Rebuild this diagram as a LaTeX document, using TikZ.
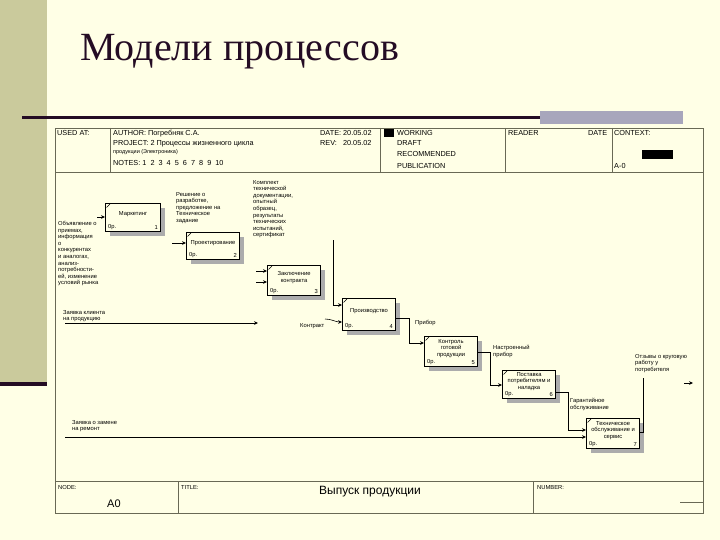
\documentclass[tikz,border=0pt]{standalone}
\usepackage{fontspec}
\setmainfont{Liberation Serif}
\newfontfamily\lsans{Liberation Sans}
\usetikzlibrary{arrows.meta,calc,shadows}
\definecolor{bgc}{RGB}{255,255,230}
\definecolor{barc}{RGB}{202,202,156}
\definecolor{darkc}{RGB}{36,12,36}
\definecolor{grayc}{RGB}{168,166,188}
\definecolor{framec}{RGB}{105,105,85}
\definecolor{shc}{RGB}{172,172,172}
\tikzset{
  fbox/.style={draw=black, line width=1.1pt, fill=bgc, anchor=north west, inner sep=0pt,
    drop shadow={shadow xshift=4pt, shadow yshift=-4pt, fill=shc, opacity=1}},
  btxt/.style={font=\lsans\fontsize{5.8}{6.8}\selectfont, align=center, anchor=center, inner sep=0pt},
  bsm/.style={font=\lsans\fontsize{5.8}{6.8}\selectfont, inner sep=0pt},
  lbl/.style={font=\lsans\fontsize{5.8}{6.6}\selectfont, align=left, anchor=north west, inner sep=0pt},
  htxt/.style={font=\lsans\fontsize{7.3}{8}\selectfont, anchor=base west, inner sep=0pt},
  frame/.style={draw=framec, line width=0.7pt},
  arr/.style={draw=black, line width=0.6pt, -{Stealth[length=4pt,width=3.6pt]}},
  cline/.style={draw=black, line width=0.6pt},
}
\begin{document}
\begin{tikzpicture}[x=1pt,y=-1pt]
\fill[bgc] (0,0) rectangle (720,540);
\useasboundingbox (0,0) rectangle (720,540);
% slide decoration
\fill[barc] (0,0) rectangle (47,382);
\fill[darkc] (0,382) rectangle (47,386);
\fill[darkc] (22,115.6) rectangle (540,118.6);
\fill[grayc] (540,111) rectangle (683,124);
\node[anchor=base west, inner sep=0pt, text=darkc, font=\fontsize{40}{44}\selectfont] (title) at (80,61) {Модели процессов};
% form frame
\draw[frame] (55,128) rectangle (703,513);
\draw[frame] (55,172) -- (703,172);
\foreach \xx in {110,380,505,612} \draw[frame] (\xx,128) -- (\xx,172);
\draw[frame] (55,481) -- (703,481);
\foreach \xx in {178,533} \draw[frame] (\xx,481) -- (\xx,513);
\draw[frame] (680,502) -- (703,502);
\fill[black] (384,129) rectangle (394,137);
\fill[black] (642,150) rectangle (673,159);
% header texts
\node[htxt] (h1) at (57,136) {USED AT:};
\node[htxt] (h2) at (113,136) {AUTHOR: Погребняк С.А.};
\node[htxt] (h3) at (113,146) {PROJECT: 2 Процессы жизненного цикла};
\node[htxt, font=\lsans\fontsize{5.5}{6}\selectfont] (h4) at (113,154) {продукции (Электроника)};
\node[htxt] (h5) at (113,166) {NOTES: 1\ \ 2\ \ 3\ \ 4\ \ 5\ \ 6\ \ 7\ \ 8\ \ 9\ \ 10};
\node[htxt] (h6) at (320,136) {DATE: 20.05.02};
\node[htxt] (h7) at (320,146) {REV: \ \ 20.05.02};
\node[htxt] (h8) at (397,136) {WORKING};
\node[htxt] (h9) at (397,146) {DRAFT};
\node[htxt] (h10) at (397,157) {RECOMMENDED};
\node[htxt] (h11) at (397,169) {PUBLICATION};
\node[htxt] (h12) at (508,136) {READER};
\node[htxt] (h13) at (588,136) {DATE};
\node[htxt] (h14) at (614,136) {CONTEXT:};
\node[htxt] (h15) at (614,169) {A-0};
% bottom row
\node[htxt, font=\lsans\fontsize{5.8}{6}\selectfont] (f1) at (58,489) {NODE:};
\node[htxt, font=\lsans\fontsize{5.8}{6}\selectfont] (f2) at (181,489) {TITLE:};
\node[htxt, font=\lsans\fontsize{5.8}{6}\selectfont] (f3) at (537,489) {NUMBER:};
\node[htxt, font=\lsans\fontsize{11}{12}\selectfont] (f4) at (107,507) {A0};
\node[anchor=base, inner sep=0pt, font=\lsans\fontsize{12}{13}\selectfont] (f5) at (370,494) {Выпуск продукции};
% boxes
\node[fbox, minimum width=55pt, minimum height=28pt] (b1) at (105,203) {};
\node[fbox, minimum width=53pt, minimum height=27pt] (b2) at (186,232) {};
\node[fbox, minimum width=53pt, minimum height=30pt] (b3) at (267,265) {};
\node[fbox, minimum width=53pt, minimum height=32pt] (b4) at (342,298) {};
\node[fbox, minimum width=53pt, minimum height=30pt] (b5) at (424,336) {};
\node[fbox, minimum width=53pt, minimum height=28pt] (b6) at (502,370) {};
\node[fbox, minimum width=53pt, minimum height=30pt] (b7) at (586,418) {};
\foreach \b/\n/\t in {b1/1/Маркетинг, b2/2/Проектирование, b3/3/{Заключение\\контракта}, b4/4/Производство, b5/5/{Контроль\\готовой\\продукции}, b6/6/{Поставка\\потребителям и\\наладка}, b7/7/{Техническое\\обслуживание и\\сервис}}{
  \node[btxt] (\b t) at ($(\b.center)+(0,-3)$) {\t};
  \node[bsm, anchor=south west] (\b c) at ($(\b.south west)+(3,-2)$) {0р.};
  \node[bsm, anchor=south east] (\b n) at ($(\b.south east)+(-3,-2)$) {\n};
  \draw[line width=0.5pt] ($(\b.north west)+(1.5,4.5)$) -- ($(\b.north west)+(5,1)$);
}
% labels
\node[lbl] (l1) at (58,221) {Объявление о\\приемах,\\информация\\о\\конкурентах\\и аналогах,\\анализ-\\потребности-\\ей, изменение\\условий рынка};
\node[lbl] (l2) at (176,192) {Решение о\\разработке,\\предложение на\\Техническое\\задание};
\node[lbl] (l3) at (253,180) {Комплект\\технической\\документации,\\опытный\\образец,\\результаты\\технических\\испытаний,\\сертификат};
\node[lbl] (l4) at (63,310) {Заявка клиента\\на продукцию};
\node[lbl] (l5) at (300,323) {Контракт};
\node[lbl] (l6) at (415,320) {Прибор};
\node[lbl] (l7) at (493,345) {Настроенный\\прибор};
\node[lbl] (l8) at (570,398) {Гарантийное\\обслуживание};
\node[lbl] (l9) at (635,354) {Отзывы о круговую\\работу у\\потребителя};
\node[lbl] (l10) at (72,420) {Заявка о замене\\на ремонт};
% connectors
\coordinate (in1) at (97,217);
\draw[arr] (in1) -- (in1 -| b1.west);
\coordinate (in2) at (172,243);
\draw[arr] (in2) -- (in2 -| b2.west);
\coordinate (in3a) at (256,271);
\draw[arr] (in3a) -- (in3a -| b3.west);
\coordinate (in3b) at (256,282);
\draw[arr] (in3b) -- (in3b -| b3.west);
\coordinate (d1) at (333,240);
\draw[arr] (d1) |- ($(b4.north west)+(0,7)$);
\coordinate (k1) at (325,319);
\draw[arr] (k1) to[out=0,in=180] ($(b4.north west)+(0,24)$);
\draw[arr] ($(b4.north east)+(0,20)$) -- ++(13,0) |- ($(b5.north west)+(0,7)$);
\draw[arr] ($(b5.north east)+(0,16)$) -- ++(12,0) |- ($(b6.north west)+(0,15)$);
\draw[arr] ($(b6.north east)+(0,22)$) -- ++(12,0) |- ($(b7.north west)+(0,12)$);
\coordinate (zr) at (65,437);
\draw[arr] (zr) -- (zr -| b7.west);
\coordinate (zk1) at (65,323);
\coordinate (zk2) at (258,323);
\draw[arr] (zk1) -- (zk2);
\coordinate (o7) at (643,378);
\draw[cline] ($(b7.north east)+(0,14)$) -| (o7);
\coordinate (ba1) at (684,383);
\coordinate (ba2) at (693,383);
\draw[arr] (ba1) -- (ba2);
\end{tikzpicture}
\end{document}
